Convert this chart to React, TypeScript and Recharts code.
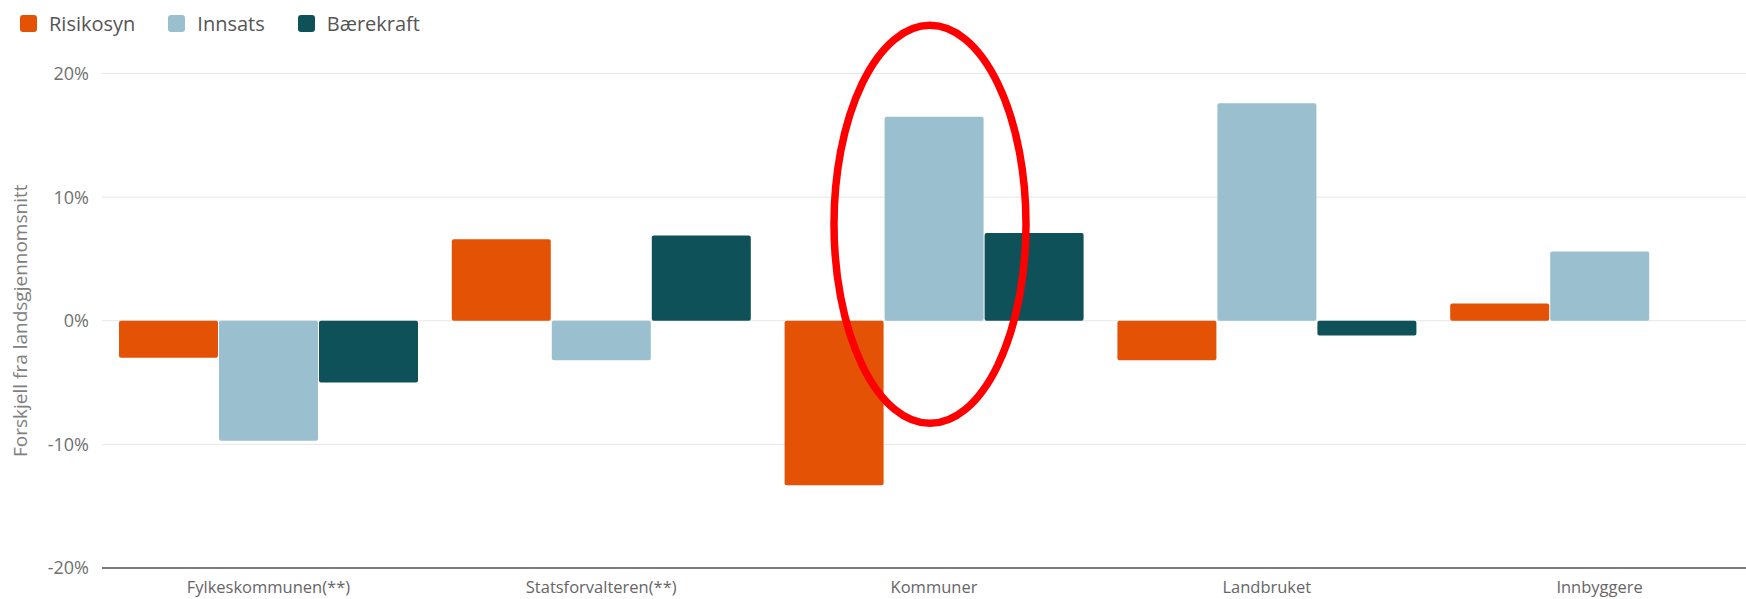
import React from "react";
import {
  BarChart,
  Bar,
  XAxis,
  YAxis,
  CartesianGrid,
  ReferenceDot,
} from "recharts";

const categories = [
  "Fylkeskommunen(**)",
  "Statsforvalteren(**)",
  "Kommuner",
  "Landbruket",
  "Innbyggere",
];
const risikosyn = [-3.0, 6.6, -13.3, -3.2, 1.4];
const innsats = [-9.7, -3.2, 16.5, 17.6, 5.6];
const baerekraft = [-5.0, 6.9, 7.1, -1.2, null];

const yTicks = [-20, -10, 0, 10, 20];
const yLabel = "Forskjell fra landsgjennomsnitt";

const seriesNames = ["Risikosyn", "Innsats", "Bærekraft"];
const seriesKeys = ["risikosyn", "innsats", "baerekraft"];
const seriesColors = ["#E35205", "#9ABFCF", "#0F5159"];

const highlightCategory = "Kommuner";
const highlightCenterValue = 7.8;

const data = categories.map((c, i) => ({
  category: c,
  risikosyn: risikosyn[i],
  innsats: innsats[i],
  baerekraft: baerekraft[i],
}));

const FONT = "'Open Sans', sans-serif";

const EllipseShape = (props: any) => {
  const { cx, cy } = props;
  if (cx == null || cy == null) return null;
  return (
    <ellipse
      cx={cx - 4}
      cy={cy}
      rx={96}
      ry={199}
      fill="none"
      stroke="#FF0000"
      strokeWidth={7.5}
    />
  );
};

export default function App() {
  return (
    <div
      style={{
        position: "fixed",
        left: 0,
        top: 0,
        width: 1746,
        height: 599,
        overflow: "hidden",
        background: "#fff",
        fontFamily: FONT,
      }}
    >
      <BarChart
        width={1766}
        height={599}
        data={data}
        margin={{ top: 73.5, right: 0, bottom: 0, left: 0 }}
        barCategoryGap={17}
        barGap={1}
      >
        <CartesianGrid vertical={false} stroke="#E6E6E6" />
        <YAxis
          width={102}
          domain={[-20, 20]}
          ticks={yTicks}
          tickFormatter={(v: number) => `${v}%`}
          axisLine={false}
          tickLine={false}
          tickSize={0}
          tickMargin={13}
          tick={{ fill: "#707070", fontSize: 18, fontFamily: FONT }}
          label={{
            value: yLabel,
            angle: -90,
            position: "insideLeft",
            offset: 20,
            style: {
              textAnchor: "middle",
              fill: "#808080",
              fontSize: 19,
              fontFamily: FONT,
            },
          }}
        />
        <XAxis
          dataKey="category"
          height={31}
          axisLine={{ stroke: "#555", strokeWidth: 1.5 }}
          tickLine={false}
          tickSize={0}
          tickMargin={13}
          interval={0}
          tick={{ fill: "#666", fontSize: 16.5, fontFamily: FONT }}
        />
        {seriesKeys.map((k, i) => (
          <Bar
            key={k}
            dataKey={k}
            name={seriesNames[i]}
            fill={seriesColors[i]}
            radius={2}
            isAnimationActive={false}
          />
        ))}
        <ReferenceDot
          x={highlightCategory}
          y={highlightCenterValue}
          r={0}
          ifOverflow="visible"
          shape={EllipseShape}
        />
      </BarChart>
      <div
        style={{
          position: "absolute",
          left: 20,
          top: 10,
          display: "flex",
          alignItems: "center",
          fontFamily: FONT,
          fontSize: 20,
          color: "#555",
        }}
      >
        {seriesNames.map((n, i) => (
          <div
            key={n}
            style={{ display: "flex", alignItems: "center", marginRight: 33 }}
          >
            <span
              style={{
                display: "inline-block",
                width: 17,
                height: 17,
                borderRadius: 3,
                background: seriesColors[i],
                marginRight: 12,
              }}
            />
            <span>{n}</span>
          </div>
        ))}
      </div>
    </div>
  );
}
